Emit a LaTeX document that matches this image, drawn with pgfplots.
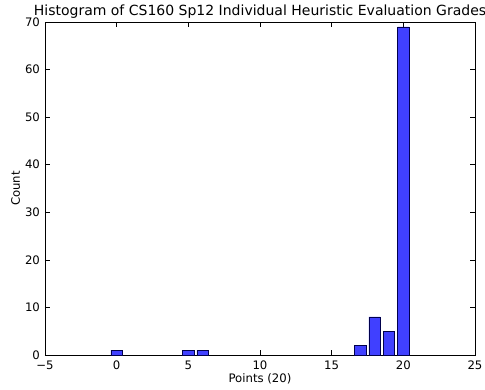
\documentclass[border=0pt]{standalone}
\usepackage{fontspec}
\setmainfont{DejaVu Sans}
\usepackage{pgfplots}
\pgfplotsset{compat=1.18}
\definecolor{barblue}{HTML}{4040FF}
\begin{document}
\fontsize{11.7}{13}\selectfont
\begin{tikzpicture}
\begin{axis}[
  at={(0,0)}, anchor=south west,
  scale only axis,
  width=430pt, height=333pt,
  xmin=-5, xmax=25, ymin=0, ymax=70,
  xtick={-5,0,5,10,15,20,25},
  xticklabels={−5,0,5,10,15,20,25},
  ytick={0,10,20,30,40,50,60,70},
  tick align=inside,
  xtick pos=both, ytick pos=both,
  major tick length=5pt,
  minor tick num=0,
  /pgf/number format/assume math mode=true,
  axis line style={black, line width=0.8pt},
  tick style={black, line width=0.6pt},
  title={Histogram of CS160 Sp12 Individual Heuristic Evaluation Grades},
  title style={font=\fontsize{14}{16}\selectfont, yshift=-7pt},
  xlabel={Points (20)}, ylabel={Count},
  xlabel style={yshift=4pt},
  ylabel style={yshift=-3pt},
  tick label style={font=\fontsize{11.7}{13}\selectfont},
  xticklabel style={yshift=-1.5pt},
  yticklabel style={xshift=-1pt},
  label style={font=\fontsize{11.7}{13}\selectfont},
]
\addplot[fill=barblue, draw=black!70!blue, line width=0.5pt, ybar, bar width=0.8, bar shift=0pt]
  coordinates {(0,1) (5,1) (6,1) (17,2) (18,8) (19,5) (20,69)};
\end{axis}
\pgfresetboundingbox
\path (-45pt,-34pt) rectangle (440pt,355pt);
\end{tikzpicture}
\end{document}
